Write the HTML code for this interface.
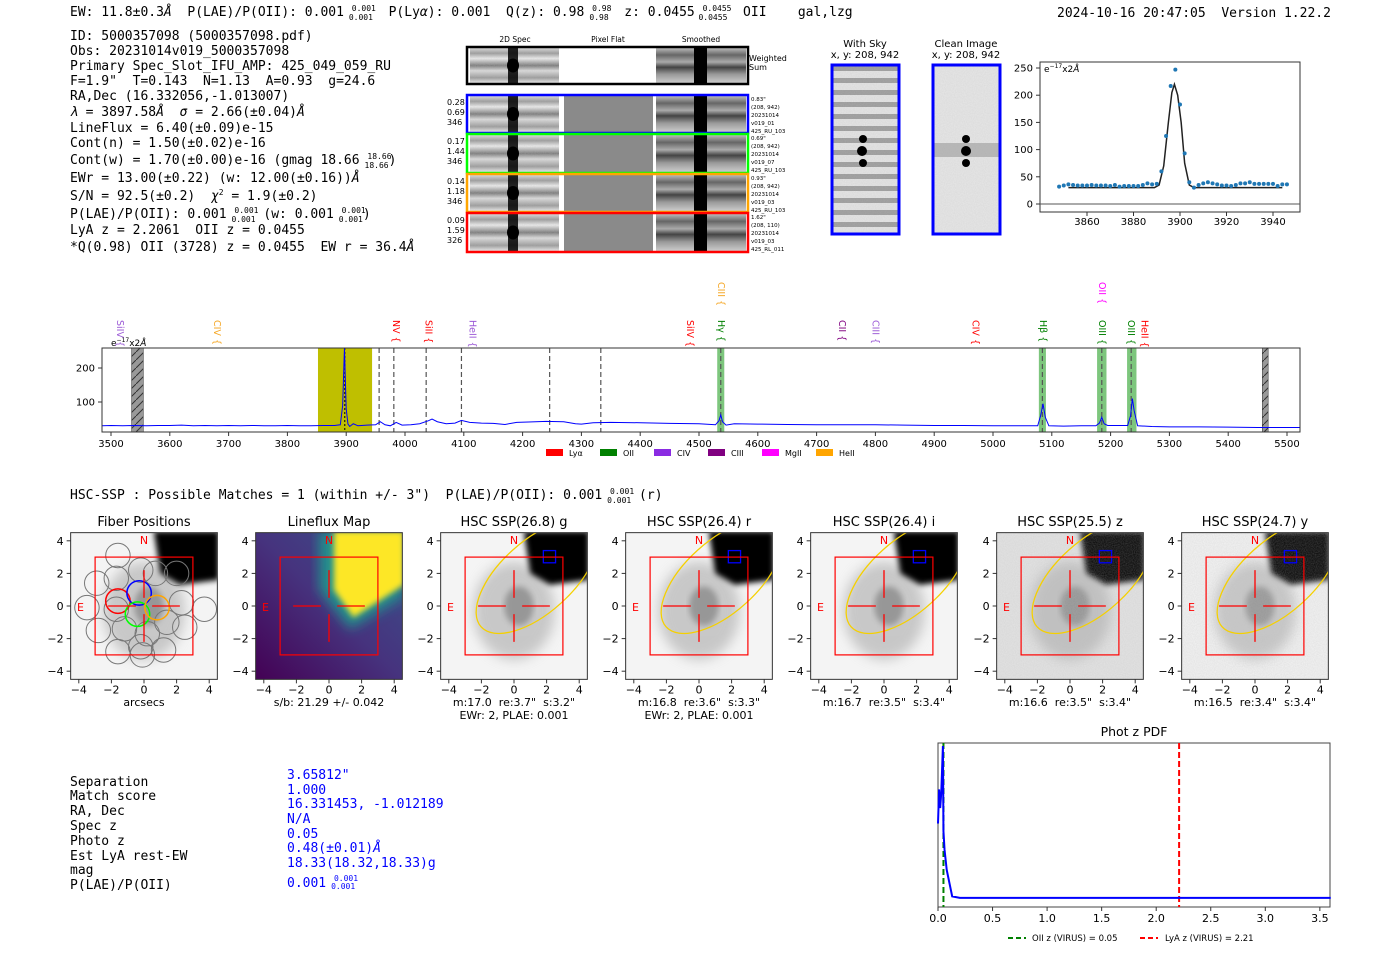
<!DOCTYPE html>
<html><head><meta charset="utf-8"><style>
html,body{margin:0;padding:0;background:#fff;}
svg{display:block;white-space:pre;}
.m{font-family:"DejaVu Sans Mono","Liberation Mono",monospace;font-size:13px;fill:#000;white-space:pre;}
.s{font-family:"DejaVu Sans","Liberation Sans",sans-serif;white-space:pre;}
</style></head><body>
<svg id="root" width="1400" height="953" viewBox="0 0 1400 953" xmlns="http://www.w3.org/2000/svg" xml:space="preserve">
<defs>
<filter id="blur3"><feGaussianBlur stdDeviation="3"/></filter>
<filter id="blur6"><feGaussianBlur stdDeviation="6"/></filter>
<filter id="noise" x="0" y="0" width="1" height="1"><feTurbulence type="fractalNoise" baseFrequency="0.9" numOctaves="1" seed="3"/><feColorMatrix type="matrix" values="0 0 0 0 0.5  0 0 0 0 0.5  0 0 0 0 0.5  0 0 0 0.35 0"/></filter>
<linearGradient id="bands" x1="0" y1="0" x2="0" y2="1">
<stop offset="0" stop-color="#ddd"/><stop offset="0.15" stop-color="#999"/><stop offset="0.3" stop-color="#eee"/><stop offset="0.5" stop-color="#777"/><stop offset="0.65" stop-color="#ddd"/><stop offset="0.85" stop-color="#999"/><stop offset="1" stop-color="#eee"/></linearGradient>
<linearGradient id="bandsS" x1="0" y1="0" x2="0" y2="1">
<stop offset="0" stop-color="#bbb"/><stop offset="0.2" stop-color="#666"/><stop offset="0.4" stop-color="#aaa"/><stop offset="0.55" stop-color="#444"/><stop offset="0.75" stop-color="#999"/><stop offset="1" stop-color="#ccc"/></linearGradient>
<pattern id="sky" width="10" height="12" patternUnits="userSpaceOnUse"><rect width="10" height="12" fill="#e6e6e6"/><rect y="6" width="10" height="5" fill="#9a9a9a"/></pattern>
<pattern id="hatch" width="8" height="8" patternUnits="userSpaceOnUse"><rect width="8" height="8" fill="#999"/><path d="M0 8 L8 0" stroke="#333" stroke-width="1"/></pattern>
<linearGradient id="vir" x1="0" y1="1" x2="1" y2="0"><stop offset="0" stop-color="#440154"/><stop offset="0.5" stop-color="#46337e"/><stop offset="1" stop-color="#3b528b"/></linearGradient>
</defs>
<g id="hdr">
<text class="m" x="70" y="16">EW: 11.8±0.3<tspan font-style="italic">Å</tspan>  P(LAE)/P(OII): 0.001 <tspan font-size="8" dy="-5">0.001</tspan><tspan font-size="8" dx="-27" dy="9">0.001</tspan><tspan dy="-4">  P(Ly<tspan font-style="italic">α</tspan>): 0.001  Q(z): 0.98 </tspan><tspan font-size="8" dy="-5">0.98</tspan><tspan font-size="8" dx="-22" dy="9">0.98</tspan><tspan dy="-4">  z: 0.0455 </tspan><tspan font-size="8" dy="-5">0.0455</tspan><tspan font-size="8" dx="-33" dy="9">0.0455</tspan><tspan dy="-4">  OII    gal,lzg</tspan></text>
<text class="m" x="1057" y="17">2024-10-16 20:47:05  Version 1.22.2</text>
</g>
<g id="info">
<text class="m" x="70" y="40">ID: 5000357098 (5000357098.pdf)</text>
<text class="m" x="70" y="55">Obs: 20231014v019_5000357098</text>
<text class="m" x="70" y="70">Primary Spec_Slot_IFU_AMP: 425_049_059_RU</text>
<text class="m" x="70" y="85">F=1.9"  T=0.143  N=1.13  A=0.93  g=24.6</text>
<text class="m" x="70" y="100">RA,Dec (16.332056,-1.013007)</text>
<text class="m" x="70" y="116"><tspan font-style="italic">λ</tspan> = 3897.58<tspan font-style="italic">Å</tspan>  <tspan font-style="italic">σ</tspan> = 2.66(±0.04)<tspan font-style="italic">Å</tspan></text>
<text class="m" x="70" y="132">LineFlux = 6.40(±0.09)e-15</text>
<text class="m" x="70" y="147">Cont(n) = 1.50(±0.02)e-16</text>
<text class="m" x="70" y="164">Cont(w) = 1.70(±0.00)e-16 (gmag 18.66 <tspan font-size="8" dy="-5">18.66</tspan><tspan font-size="8" dx="-27" dy="9">18.66</tspan><tspan dy="-4">)</tspan></text>
<text class="m" x="70" y="182">EWr = 13.00(±0.22) (w: 12.00(±0.16))<tspan font-style="italic">Å</tspan></text>
<text class="m" x="70" y="200">S/N = 92.5(±0.2)  <tspan font-style="italic">χ</tspan><tspan font-size="8" dy="-5">2</tspan><tspan dy="5"> = 1.9(±0.2)</tspan></text>
<text class="m" x="70" y="218">P(LAE)/P(OII): 0.001 <tspan font-size="8" dy="-5">0.001</tspan><tspan font-size="8" dx="-27" dy="9">0.001</tspan><tspan dy="-4"> (w: 0.001 </tspan><tspan font-size="8" dy="-5">0.001</tspan><tspan font-size="8" dx="-27" dy="9">0.001</tspan><tspan dy="-4">)</tspan></text>
<text class="m" x="70" y="234">LyA z = 2.2061  OII z = 0.0455</text>
<text class="m" x="70" y="251">*Q(0.98) OII (3728) z = 0.0455  EW r = 36.4<tspan font-style="italic">Å</tspan></text>
</g>

<g id="cutouts" class="s" font-size="7.5">
<text x="515" y="42" text-anchor="middle">2D Spec</text>
<text x="608" y="42" text-anchor="middle">Pixel Flat</text>
<text x="701" y="42" text-anchor="middle">Smoothed</text>
</g>

<g id="skyimgs" class="s" font-size="10">
<text x="865" y="47" text-anchor="middle">With Sky</text><text x="865" y="58" text-anchor="middle">x, y: 208, 942</text>
<text x="966" y="47" text-anchor="middle">Clean Image</text><text x="966" y="58" text-anchor="middle">x, y: 208, 942</text>
<rect x="832" y="65" width="67" height="169" fill="url(#sky)"/>
<rect x="832" y="65" width="67" height="169" filter="url(#noise)"/>
<rect x="933" y="65" width="67" height="169" fill="#e8e8e8"/>
<rect x="933" y="65" width="67" height="169" filter="url(#noise)"/>
<rect x="933" y="143" width="67" height="14" fill="#999" opacity="0.6"/>
<g fill="#000"><circle cx="863" cy="139" r="4"/><circle cx="862" cy="151" r="5"/><circle cx="863" cy="163" r="4"/>
<circle cx="966" cy="139" r="4"/><circle cx="966" cy="151" r="5"/><circle cx="966" cy="163" r="4"/></g>
<rect x="832" y="65" width="67" height="169" fill="none" stroke="#00f" stroke-width="3"/>
<rect x="933" y="65" width="67" height="169" fill="none" stroke="#00f" stroke-width="3"/>
</g>

<g id="fit"></g>
<g id="spec"></g>

<text class="m" x="70" y="499">HSC-SSP : Possible Matches = 1 (within +/- 3")  P(LAE)/P(OII): 0.001 <tspan font-size="8" dy="-5">0.001</tspan><tspan font-size="8" dx="-27" dy="9">0.001</tspan><tspan dy="-4"> (r)</tspan></text>
<g id="imgs"></g>

<g id="tbl">
<g class="m"><text x="70" y="786">Separation</text><text x="70" y="800">Match score</text><text x="70" y="815">RA, Dec</text><text x="70" y="830">Spec z</text><text x="70" y="845">Photo z</text><text x="70" y="860">Est LyA rest-EW</text><text x="70" y="874">mag</text><text x="70" y="889">P(LAE)/P(OII)</text></g>
<g class="m" style="fill:#00f"><text x="287" y="779">3.65812"</text><text x="287" y="794">1.000</text><text x="287" y="808">16.331453, -1.012189</text><text x="287" y="823">N/A</text><text x="287" y="838">0.05</text><text x="287" y="852">0.48(±0.01)<tspan font-style="italic">Å</tspan></text><text x="287" y="867">18.33(18.32,18.33)g</text><text x="287" y="887">0.001 <tspan font-size="8" dy="-6">0.001</tspan><tspan font-size="8" dx="-27" dy="8">0.001</tspan></text></g>
</g>
<g id="pdf"></g>
</svg>
<script>
// ---------- data ----------
const fitWl=[3848,3850,3852,3854,3856,3858,3860,3862,3864,3866,3868,3870,3872,3874,3876,3878,3880,3882,3884,3886,3888,3890,3892,3894,3896,3898,3900,3902,3904,3906,3908,3910,3912,3914,3916,3918,3920,3922,3924,3926,3928,3930,3932,3934,3936,3938,3940,3942,3944,3946];
const fitFlux=[32,34,36,35,34,34,34,35,34,34,34,33,35,32,33,33,33,33,35,38,36,37,60,125,217,247,183,93,40,30,35,38,40,38,36,34,34,33,35,38,38,40,37,37,37,37,37,33,36,36];
const modelWl=[3852,3889,3891,3893,3895,3896.5,3897.6,3899,3900.5,3902,3904,3906,3944];
const modelFlux=[30,30,35,70,150,205,220,200,150,75,35,30,30];
const fitTicksX=[3860,3880,3900,3920,3940];
const fitTicksY=[0,50,100,150,200,250];

const specWl=[3485,3500,3520,3540,3560,3580,3600,3620,3640,3660,
3680,3700,3720,3740,3760,3780,3800,3820,3840,3860,
3880,3890,3894,3897,3900,3903,3906,3912,3920,3935,
3950,3958,3966,3975,3985,3995,4010,4025,4040,4046,
4055,4070,4085,4096,4110,4130,4150,4170,4190,4210,
4240,4270,4290,4300,4320,4350,4400,4450,4500,4528,
4534,4537,4540,4546,4560,4600,4650,4700,4750,4800,
4850,4900,4950,5000,5050,5076,5081,5085,5089,5095,
5120,5150,5175,5181,5185,5189,5195,5220,5229,5234,
5237,5240,5246,5270,5300,5350,5400,5450,5480,5522];
const specFlux=[30,31,30,31,30,31,31,32,30,31,
30,31,30,31,30,30,31,30,30,31,
31,33,90,258,80,35,28,36,30,32,
33,42,33,30,40,32,33,36,45,50,
42,36,38,46,40,38,37,34,40,41,
43,42,36,35,39,40,39,37,36,33,
45,62,42,32,36,35,34,33,33,33,
32,31,31,30,30,30,60,95,55,30,
29,30,30,38,55,36,31,31,31,60,
110,75,30,28,27,27,26,25,25,25];
const specTicksX=[3500,3600,3700,3800,3900,4000,4100,4200,4300,4400,4500,4600,4700,4800,4900,5000,5100,5200,5300,5400,5500];
const specTicksY=[100,200];
const dashedLines=[3956,3981,4036,4096,4246,4333,4537,5084,5185,5235];
const greenBands=[[4531,4543],[5078,5090],[5177,5193],[5228,5244]];
const lineNames=["SiIV","CIV","NV","SiII","HeII","SiIV","CIII","Hγ","CII","CIII","CIV","Hβ","OII","OIII","OIII","HeII"];
const lineWl=[3515,3680,3985,4040,4115,4485,4537,4537,4743,4800,4970,5085,5185,5185,5235,5258];
const lineColors=["#9b59d6","#f5a623","#f00","#f00","#9b59d6","#f00","#f5a623","#008000","#800080","#9b59d6","#f00","#008000","#f0f","#008000","#008000","#f00"];
const lineHigh=[0,0,0,0,0,0,1,0,0,0,0,0,1,0,0,0];
const legNames=["Lyα","OII","CIV","CIII","MgII","HeII"];
const legColors=["#f00","#008000","#8a2be2","#800080","#f0f","#ffa500"];

const pdfZ=[0,0.01,0.02,0.03,0.045,0.05,0.06,0.08,0.13,0.2,0.5,1.0,1.5,2.0,2.5,3.0,3.6];
const pdfVal=[0.5,0.72,0.6,0.7,1.0,0.45,0.33,0.2,0.03,0.02,0.02,0.02,0.02,0.02,0.02,0.02,0.02];
const pdfTicks=[0,0.5,1.0,1.5,2.0,2.5,3.0,3.5];
const pdfLinesZ=[0.05,2.21];

const panelTitles=["Fiber Positions","Lineflux Map","HSC SSP(26.8) g","HSC SSP(26.4) r","HSC SSP(26.4) i","HSC SSP(25.5) z","HSC SSP(24.7) y"];
const panelSub1=["arcsecs","s/b: 21.29 +/- 0.042","m:17.0  re:3.7\"  s:3.2\"","m:16.8  re:3.6\"  s:3.3\"","m:16.7  re:3.5\"  s:3.4\"","m:16.6  re:3.5\"  s:3.4\"","m:16.5  re:3.4\"  s:3.4\""];
const panelSub2=["","","EWr: 2, PLAE: 0.001","EWr: 2, PLAE: 0.001","","",""];
const imgTicks=[-4,-2,0,2,4];

// ---------- helpers ----------
const NS="http://www.w3.org/2000/svg";
function mk(parent,tag,attrs,txt){const e=document.createElementNS(NS,tag);for(const k in attrs)e.setAttribute(k,attrs[k]);if(txt!==undefined)e.textContent=txt;parent.appendChild(e);return e;}
const fmt=v=>String(v).replace('-','−');

// ---------- 2D spectra cutouts ----------
(function(){
 const g=document.getElementById('cutouts');
 const rows=[{y:47,h:37,c:"#000",lab:null,txt:null},
  {y:95,h:38,c:"#00f",lab:["0.28","0.69","346"],txt:["0.83\"","(208, 942)","20231014","v019_01","425_RU_103"]},
  {y:134,h:39,c:"#0f0",lab:["0.17","1.44","346"],txt:["0.69\"","(208, 942)","20231014","v019_07","425_RU_103"]},
  {y:174,h:38,c:"#ffa500",lab:["0.14","1.18","346"],txt:["0.93\"","(208, 942)","20231014","v019_03","425_RU_103"]},
  {y:213,h:39,c:"#f00",lab:["0.09","1.59","326"],txt:["1.62\"","(208, 110)","20231014","v019_03","425_RL_011"]}];
 rows.forEach((r,i)=>{
  const row=mk(g,'g',{});
  
  
  mk(row,'rect',{x:470,y:r.y+1,width:89,height:r.h-2,fill:'url(#bands)'});
  mk(row,'rect',{x:470,y:r.y+1,width:89,height:r.h-2,filter:'url(#noise)'});
  if(i>0) mk(row,'rect',{x:564,y:r.y+1,width:89,height:r.h-2,fill:'#8a8a8a'});
  mk(row,'rect',{x:656,y:r.y+1,width:90,height:r.h-2,fill:'url(#bandsS)'});
  mk(row,'rect',{x:508,y:r.y+1,width:10,height:r.h-2,fill:'#000',opacity:0.85});
  mk(row,'ellipse',{cx:513,cy:r.y+r.h/2,rx:6,ry:7,fill:'#000'});
  mk(row,'rect',{x:694,y:r.y+1,width:13,height:r.h-2,fill:'#000'});
  mk(row,'rect',{x:467,y:r.y,width:281,height:r.h,fill:'none',stroke:r.c,'stroke-width':2.5});
  if(r.lab) r.lab.forEach((t,j)=>mk(row,'text',{x:447,y:r.y+10+j*10,'font-size':8},t));
  if(r.txt) r.txt.forEach((t,j)=>mk(row,'text',{x:751,y:r.y+6+j*8,'font-size':5.5},t));
 });
 mk(g,'text',{x:749,y:61,'font-size':8},'Weighted');
 mk(g,'text',{x:749,y:70,'font-size':8},'Sum');
})();

// ---------- fit plot ----------
(function(){
 const g=document.getElementById('fit');
 const L=1040,R=1300,T=62,B=212;
 const xs=w=>1087+(w-3860)*2.325, ys=v=>204-v*0.544;
 mk(g,'rect',{x:L,y:T,width:R-L,height:B-T,fill:'#fff',stroke:'#333'});
 mk(g,'line',{x1:L,x2:R,y1:ys(0),y2:ys(0),stroke:'#555'});
 fitTicksX.forEach(t=>{mk(g,'line',{x1:xs(t),x2:xs(t),y1:B,y2:B+4,stroke:'#333'});mk(g,'text',{x:xs(t),y:B+13,'font-size':10,'text-anchor':'middle',class:'s'},t);});
 fitTicksY.forEach(t=>{mk(g,'line',{x1:L-4,x2:L,y1:ys(t),y2:ys(t),stroke:'#333'});mk(g,'text',{x:L-7,y:ys(t)+3.5,'font-size':10,'text-anchor':'end',class:'s'},t);});
 const t=mk(g,'text',{x:L+4,y:T+10,'font-size':9,class:'s'},'e');
 mk(t,'tspan',{'font-size':6,dy:-4},'−17');mk(t,'tspan',{dy:4},'x2');mk(t,'tspan',{'font-style':'italic'},'Å');
 const model=mk(g,'polyline',{points:modelWl.map((w,i)=>xs(w)+','+ys(modelFlux[i])).join(' '),fill:'none',stroke:'#222','stroke-width':1.5});
 
 
 fitWl.forEach((w,i)=>{
  const c=mk(g,'circle',{cx:xs(w),cy:ys(fitFlux[i]),r:2,fill:'#1f77b4'});
  
  
 });
})();

// ---------- full spectrum ----------
(function(){
 const g=document.getElementById('spec');
 const L=102,R=1300,T=348,B=432;
 const xs=w=>111+(w-3500)*0.588, ys=v=>436-v*0.34;
 mk(g,'rect',{x:L,y:T,width:R-L,height:B-T,fill:'#fff'});
 const yb=mk(g,'rect',{x:xs(3852),y:T,width:xs(3944)-xs(3852),height:B-T,fill:'#bfbf00'});
 
 
 [[3535,3555],[5458,5468]].forEach(b=>mk(g,'rect',{x:xs(b[0]),y:T,width:xs(b[1])-xs(b[0]),height:B-T,fill:'url(#hatch)',stroke:'#333','stroke-width':0.5}));
 greenBands.forEach(b=>{
  const r=mk(g,'rect',{x:xs(b[0]),y:T,width:xs(b[1])-xs(b[0]),height:B-T,fill:'#5cb85c',opacity:0.8});
  
  
 });
 dashedLines.forEach(w=>mk(g,'line',{x1:xs(w),x2:xs(w),y1:T,y2:B,stroke:'#555','stroke-width':1.2,'stroke-dasharray':'5,3'}));
 mk(g,'line',{x1:xs(3897.6),x2:xs(3897.6),y1:T,y2:B,stroke:'#000','stroke-width':1,'stroke-dasharray':'2,2'});
 const sp=mk(g,'polyline',{points:specWl.map((w,i)=>xs(w)+','+ys(specFlux[i])).join(' '),fill:'none',stroke:'#00f','stroke-width':1});
 
 
 mk(g,'rect',{x:L,y:T,width:R-L,height:B-T,fill:'none',stroke:'#333'});
 specTicksX.forEach(t=>{mk(g,'line',{x1:xs(t),x2:xs(t),y1:B,y2:B+4,stroke:'#333'});mk(g,'text',{x:xs(t),y:B+15,'font-size':10,'text-anchor':'middle',class:'s'},t);});
 specTicksY.forEach(t=>{mk(g,'line',{x1:L-4,x2:L,y1:ys(t),y2:ys(t),stroke:'#333'});mk(g,'text',{x:L-7,y:ys(t)+3.5,'font-size':10,'text-anchor':'end',class:'s'},t);});
 const u=mk(g,'text',{x:111,y:346,'font-size':9,class:'s'},'e');
 mk(u,'tspan',{'font-size':6,dy:-4},'−17');mk(u,'tspan',{dy:4},'x2');mk(u,'tspan',{'font-style':'italic'},'Å');
 lineNames.forEach((n,i)=>{
  const x=xs(lineWl[i]), y0=lineHigh[i]?282:320;
  const t=mk(g,'text',{x:0,y:0,'font-size':9.5,fill:lineColors[i],class:'s',transform:`translate(${x-3},${y0}) rotate(90)`},n+' {');
  
  
 });
 legNames.forEach((n,i)=>{
  const x=546+i*54;
  mk(g,'rect',{x:x,y:449,width:17,height:7,fill:legColors[i]});
  const t=mk(g,'text',{x:x+23,y:456,'font-size':8,class:'s'},n);
  
  
 });
})();

// ---------- imaging panels ----------
(function(){
 const g=document.getElementById('imgs');
 const cx0=[144,329,514,699,884,1070,1255];
 cx0.forEach((c,i)=>{
  const cy=606, s=16.3;
  const X=v=>c+v*s, Y=v=>cy-v*s;
  const p=mk(g,'g',{});
  
  
  const clipId='clip'+i;
  const cp=mk(p,'clipPath',{id:clipId});mk(cp,'rect',{x:X(-4.5),y:Y(4.5),width:9*s,height:9*s});
  const im=mk(p,'g',{'clip-path':`url(#${clipId})`});
  if(i===1){
   mk(im,'rect',{x:X(-4.5),y:Y(4.5),width:9*s,height:9*s,fill:'url(#vir)'});
   mk(im,'polygon',{points:[[-0.6,4.6],[-0.6,1],[1.3,-1.4],[4.6,0.6],[4.6,4.6]].map(q=>X(q[0])+','+Y(q[1])).join(' '),fill:'#21918c',filter:'url(#blur6)'});
   mk(im,'polygon',{points:[[0.3,4.6],[0.3,1],[1.5,-0.7],[4.6,1.3],[4.6,4.6]].map(q=>X(q[0])+','+Y(q[1])).join(' '),fill:'#fde725',filter:'url(#blur3)'});
  } else {
   mk(im,'rect',{x:X(-4.5),y:Y(4.5),width:9*s,height:9*s,fill:i===5?'#e4e4e4':'#f4f4f4'});
   mk(im,'ellipse',{cx:X(0),cy:Y(-0.3),rx:2.5*s,ry:3*s,fill:'#aaa',opacity:0.6,filter:'url(#blur6)'});
   mk(im,'ellipse',{cx:X(0.3),cy:Y(0),rx:0.9*s,ry:1.2*s,fill:'#777',opacity:0.6,filter:'url(#blur3)'});
   mk(im,'polygon',{points:[[0.6,4.6],[1.0,2.0],[2.2,1.3],[4.6,1.6],[4.6,4.6]].map(q=>X(q[0])+','+Y(q[1])).join(' '),fill:'#000',filter:'url(#blur3)'});
   if(i>=5) mk(im,'rect',{x:X(-4.5),y:Y(4.5),width:9*s,height:9*s,filter:'url(#noise)'});
  }
  if(i===0){
   const fib=[[-1.6,3.1],[-2.9,1.4],[-1.7,1.7],[-0.2,2.2],[-3.5,-0.1],[-1.7,-0.2],[0.7,2.0],[-2.8,-1.5],[-1.2,-1.4],[0.2,-1.7],[1.4,-1.0],[2.3,0.2],[3.7,-0.2],[2.5,-1.3],[-1.6,-2.8],[-0.2,-2.5],[1.2,-2.7],[-0.1,-3.0],[2.0,2.0]];
   fib.forEach(q=>mk(im,'circle',{cx:X(q[0]),cy:Y(q[1]),r:0.75*s,fill:'none',stroke:'#777','stroke-width':1}));
   [[-1.6,0.3,'#f00'],[-0.3,0.8,'#00f'],[-0.4,-0.5,'#0f0'],[0.8,-0.1,'#ffa500']].forEach(q=>{
    const f=mk(im,'circle',{cx:X(q[0]),cy:Y(q[1]),r:0.75*s,fill:'none',stroke:q[2],'stroke-width':1.5});
    
    
   });
  }
  if(i>=2){
   mk(im,'ellipse',{cx:X(1.4),cy:Y(1.8),rx:4.6*s,ry:2.2*s,fill:'none',stroke:'#f5d000','stroke-width':1.3,transform:`rotate(-42 ${X(1.4)} ${Y(1.8)})`});
   mk(im,'rect',{x:X(1.8),y:Y(3.4),width:0.75*s,height:0.75*s,fill:'none',stroke:'#00f','stroke-width':1.3});
  }
  mk(p,'rect',{x:X(-3),y:Y(3),width:6*s,height:6*s,fill:'none',stroke:'#f00','stroke-width':1.2});
  [[-2.2,0,-0.5,0],[0.5,0,2.2,0],[0,-2.2,0,-0.5],[0,0.5,0,2.2]].forEach(q=>mk(p,'line',{x1:X(q[0]),y1:Y(q[1]),x2:X(q[2]),y2:Y(q[3]),stroke:'#f00','stroke-width':1.3}));
  mk(p,'text',{x:X(0),y:Y(3.8),fill:'#f00','font-size':11,'text-anchor':'middle',class:'s'},'N');
  mk(p,'text',{x:X(-3.9),y:Y(-0.3),fill:'#f00','font-size':11,'text-anchor':'middle',class:'s'},'E');
  mk(p,'rect',{x:X(-4.5),y:Y(4.5),width:9*s,height:9*s,fill:'none',stroke:'#333'});
  imgTicks.forEach(t=>{
   mk(p,'line',{x1:X(t),x2:X(t),y1:Y(-4.5),y2:Y(-4.5)+4,stroke:'#333'});
   mk(p,'text',{x:X(t),y:Y(-4.5)+14,'font-size':11,'text-anchor':'middle',class:'s'},fmt(t));
   mk(p,'line',{x1:X(-4.5)-4,x2:X(-4.5),y1:Y(t),y2:Y(t),stroke:'#333'});
   mk(p,'text',{x:X(-4.5)-7,y:Y(t)+4,'font-size':11,'text-anchor':'end',class:'s'},fmt(t));
  });
  const ti=mk(p,'text',{x:c,y:526,'font-size':13,'text-anchor':'middle',class:'s'},panelTitles[i]);
  
  
  mk(p,'text',{x:c,y:706,'font-size':11,'text-anchor':'middle',class:'s'},panelSub1[i]);
  if(panelSub2[i]) mk(p,'text',{x:c,y:719,'font-size':11,'text-anchor':'middle',class:'s'},panelSub2[i]);
 });
})();

// ---------- phot z pdf ----------
(function(){
 const g=document.getElementById('pdf');
 const L=938,R=1330,T=743,B=907;
 const xs=z=>938+z*109.1, ys=v=>901-v*155;
 mk(g,'text',{x:1134,y:736,'font-size':12.5,'text-anchor':'middle',class:'s'},'Phot z PDF');
 mk(g,'rect',{x:L,y:T,width:R-L,height:B-T,fill:'#fff',stroke:'#444'});
 const cl=['#008000','#f00'];
 pdfLinesZ.forEach((z,i)=>{
  const l=mk(g,'line',{x1:xs(z),x2:xs(z),y1:T,y2:B,stroke:cl[i],'stroke-width':2,'stroke-dasharray':'6,3'});
  
  
 });
 const pl=mk(g,'polyline',{points:pdfZ.map((z,i)=>xs(z)+','+ys(pdfVal[i])).join(' '),fill:'none',stroke:'#00f','stroke-width':2});
 
 
 pdfTicks.forEach(t=>{mk(g,'line',{x1:xs(t),x2:xs(t),y1:B,y2:B+4,stroke:'#333'});mk(g,'text',{x:xs(t),y:B+15,'font-size':11,'text-anchor':'middle',class:'s'},t.toFixed(1));});
 mk(g,'line',{x1:1008,x2:1026,y1:938,y2:938,stroke:'#008000','stroke-width':2,'stroke-dasharray':'5,3'});
 mk(g,'text',{x:1032,y:941,'font-size':8.5,class:'s'},'OII z (VIRUS) = 0.05');
 mk(g,'line',{x1:1140,x2:1158,y1:938,y2:938,stroke:'#f00','stroke-width':2,'stroke-dasharray':'5,3'});
 mk(g,'text',{x:1165,y:941,'font-size':8.5,class:'s'},'LyA z (VIRUS) = 2.21');
})();
</script>
</body></html>
